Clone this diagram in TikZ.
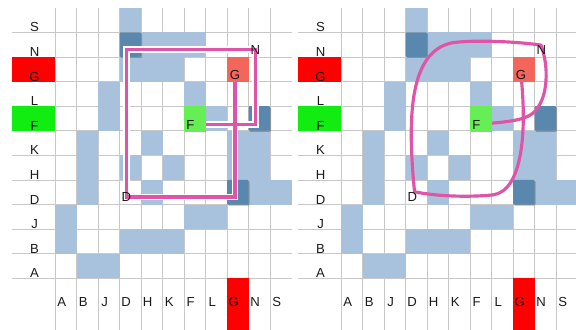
\documentclass[tikz,border=0pt]{standalone}
\usepackage{fontspec}
\setmainfont{Liberation Sans}
\usepackage{tikz}
\usetikzlibrary{shadows, calc}
\usepackage{xcolor}

\definecolor{cellblue}{RGB}{168,194,222}
\definecolor{celldark}{RGB}{90,135,173}
\definecolor{goalred}{RGB}{242,102,92}
\definecolor{startgreen}{RGB}{102,238,85}
\definecolor{tagred}{RGB}{254,0,0}
\definecolor{taggreen}{RGB}{17,236,17}
\definecolor{routepink}{RGB}{224,84,168}
\definecolor{gridgray}{RGB}{200,200,200}

\pgfdeclarelayer{bg}
\pgfdeclarelayer{routes}
\pgfsetlayers{bg,routes,main}

\tikzset{
  gridline/.style={draw=gridgray, line width=0.6pt},
  lab/.style={inner sep=0pt, text=black!90, font=\fontsize{11.2}{13}\selectfont},
  endcell/.style={minimum width=0.645cm, minimum height=0.738cm, inner sep=0pt,
    drop shadow={shadow xshift=0.8pt, shadow yshift=-0.8pt, fill=black!50, opacity=0.6}},
  darkbox/.style={fill=celldark, rounded corners=0.8pt,
    drop shadow={shadow xshift=0.9pt, shadow yshift=-0.9pt, fill=black!60, opacity=0.5}},
  route/.style={draw=white, line width=1.1pt, double=routepink, double distance=3.2pt},
  sketch/.style={draw=routepink, line width=2.7pt, line cap=round},
}

\begin{document}
\begin{tikzpicture}[x=0.03cm, y=-0.03cm]
    \useasboundingbox (0,0) rectangle (576,329);

    % Two copies of the board
    \foreach \p/\ox in {l/0, r/286} {
      \begin{scope}[shift={(55+\ox,7.7)}, x=0.645cm, y=-0.738cm]
        \begin{pgfonlayer}{bg}
          % Grid
          \foreach \i in {0,...,10} \draw[gridline] (\i,0) -- (\i,13.2);
          \foreach \j in {1,...,11} \draw[gridline] (-2,\j) -- (11,\j);

          % Tags for G and F
          \fill[tagred] (-2,2) rectangle (0,3);
          \fill[taggreen] (-2,4) rectangle (0,5);
          \fill[tagred] (8,11) rectangle (9,13.2);

          % Open cells
          \foreach \c/\r in {3/0, 4/1, 5/1, 6/1, 3/2, 4/2, 5/2, 2/3, 6/3, 2/4, 7/4,
                             1/5, 4/5, 8/5, 9/5, 1/6, 3/6, 5/6, 8/6, 9/6,
                             1/7, 4/7, 9/7, 10/7, 0/8, 6/8, 7/8,
                             0/9, 3/9, 4/9, 5/9, 1/10, 2/10}
            \fill[cellblue] (\c,\r) rectangle ++(1,1);

          % Blocked cells
          \foreach \c/\r in {3/1, 9/4, 8/7}
            \fill[darkbox] (\c,\r) rectangle ++(1,1);
        \end{pgfonlayer}

        % Goal and start
        \node[endcell, fill=goalred] (goal\p) at (8.5,2.5) {};
        \node[endcell, fill=startgreen] (start\p) at (6.5,4.5) {};
        \node[lab] (G\p) at (8.37,2.74) {G};
        \node[lab] (F\p) at (6.3,4.75) {F};
        \node[lab] (N\p) at (9.32,1.7) {N};
        \node[lab] (D\p) at (3.32,7.7) {D};

        % Row and column names
        \foreach \t [count=\j from 0] in {S,N,G,L,F,K,H,D,J,B,A}
          \node[lab] (row\t\p) at (-0.95,\j+0.8) {\t};
        \foreach \t [count=\i from 0] in {A,B,J,D,H,K,F,L,G,N,S}
          \node[lab] (col\t\p) at (\i+0.31,11.98) {\t};
      \end{scope}
    }

    \begin{pgfonlayer}{routes}
      % Left: square route
      \draw[route] (Gl.center) |- (Dl.center) |- (Nl.center) |- (Fl.center);

      % Right: hand-drawn route
      \begin{scope}[shift={(341,7.7)}, x=0.645cm, y=-0.738cm]
        \draw[sketch] (Gr.center) .. controls (8.65,5.0) and (8.45,7.45) .. (7.06,7.61)
          .. controls (5.8,7.72) and (4.3,7.65) .. ([shift={(0.1,-0.22)}]Dr.center)
          .. controls (3.05,4.2) and (3.25,1.75) .. (5.2,1.42)
          .. controls (6.3,1.3) and (8.2,1.38) .. ([shift={(-0.02,-0.18)}]Nr.center)
          .. controls (9.65,2.3) and (9.7,3.7) .. (8.92,4.29)
          .. controls (8.5,4.6) and (7.6,4.65) .. (Fr.center);
      \end{scope}
    \end{pgfonlayer}
\end{tikzpicture}
\end{document}
